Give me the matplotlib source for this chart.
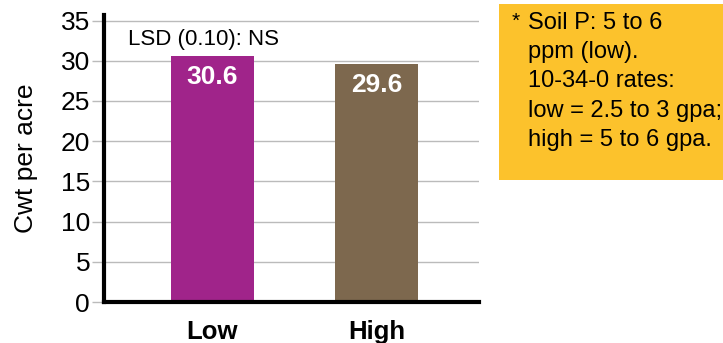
import matplotlib.pyplot as plt
from matplotlib.patches import Rectangle

plt.rcParams['font.family'] = ['Liberation Sans', 'DejaVu Sans']

# P rate trial, yield in cwt per acre
rates = ['Low', 'High']
yields = [30.6, 29.6]
bar_colors = ['#A0248A', '#7D684E']
lsd_note = 'LSD (0.10): NS'
footnote = ['Soil P: 5 to 6', 'ppm (low).', '10-34-0 rates:',
            'low = 2.5 to 3 gpa;', 'high = 5 to 6 gpa.']

fig = plt.figure(figsize=(7.23, 3.43), dpi=100)
ax = fig.add_axes([0.1438, 0.1195, 0.5187, 0.837])

x = range(len(rates))
ax.bar(x, yields, width=0.506, color=bar_colors, zorder=3)
for xi, v in zip(x, yields):
    ax.text(xi, v - 2.6, f'{v:.1f}', ha='center', va='center',
            color='white', fontsize=19, fontweight='bold', zorder=4)

ax.text(-0.515, 32.7, lsd_note, ha='left', va='center', fontsize=16)

ax.set_xlim(-0.66, 1.625)
ax.set_ylim(0, 35.7)
ax.set_yticks(range(0, 36, 5))
ax.set_xticks(list(x))
ax.set_xticklabels(rates, fontsize=18.5, fontweight='bold')
ax.tick_params(axis='x', length=0, pad=13)
ax.tick_params(axis='y', labelsize=19, length=9, width=1, color='#BBBBBB', pad=1)
ax.set_ylabel('Cwt per acre', fontsize=19, labelpad=16)
ax.yaxis.grid(True, color='#BBBBBB', linewidth=1, zorder=0)
ax.set_axisbelow(True)

for side in ['top', 'right']:
    ax.spines[side].set_visible(False)
for side in ['left', 'bottom']:
    ax.spines[side].set_linewidth(3)
    ax.spines[side].set_color('black')
    ax.spines[side].set_zorder(5)

# note box on the right
fig.patches.append(Rectangle((499 / 723, 1 - 180 / 343), 224 / 723, 176 / 343,
                             transform=fig.transFigure, facecolor='#FCC22C',
                             edgecolor='none'))
fig.text(512 / 723, 1 - 21 / 343, '*', fontsize=15, va='center', ha='left')
for i, line in enumerate(footnote):
    fig.text(528 / 723, 1 - (23 + 29.2 * i) / 343, line, fontsize=17,
             va='center', ha='left')

fig.savefig('out.png', dpi=100)
